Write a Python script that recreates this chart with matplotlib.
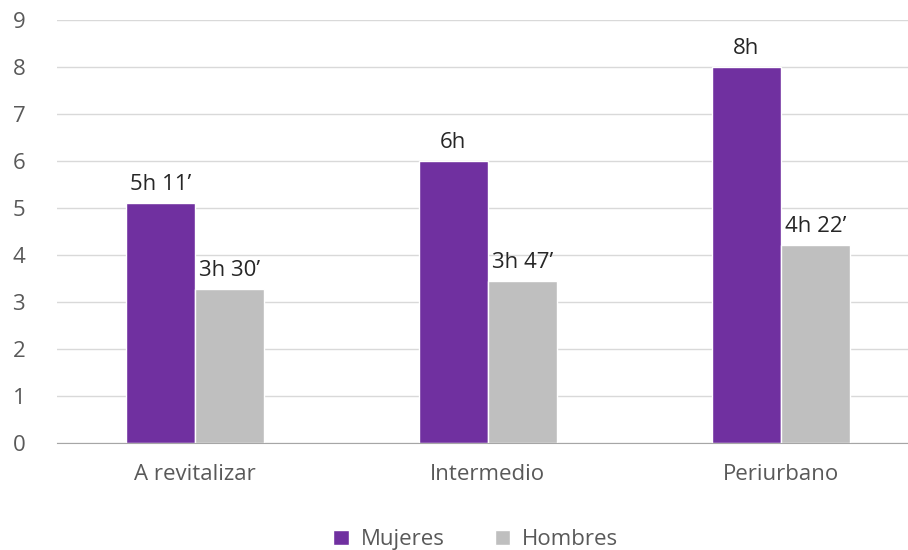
import matplotlib.pyplot as plt
import numpy as np

plt.rcParams['font.family'] = ['Open Sans', 'DejaVu Sans']

categorias = ['A revitalizar', 'Intermedio', 'Periurbano']
mujeres = [5.1, 6.0, 8.0]
hombres = [3.28, 3.45, 4.2]
etiquetas_mujeres = ['5h 11\u2019', '6h', '8h']
etiquetas_hombres = ['3h 30\u2019', '3h 47\u2019', '4h 22\u2019']

fig = plt.figure(figsize=(9.08, 5.5), dpi=100)
ax = fig.add_axes([57 / 908, 0.195, 851 / 908, 0.769])

x = np.arange(len(categorias))
w = 0.236
b1 = ax.bar(x - w / 2, mujeres, w, color='#7030A0', edgecolor='white', linewidth=1, label='Mujeres', zorder=3)
b2 = ax.bar(x + w / 2, hombres, w, color='#BFBFBF', edgecolor='white', linewidth=1, label='Hombres', zorder=3)

for rect, lab in zip(b1, etiquetas_mujeres):
    ax.text(rect.get_x() + rect.get_width() / 2, rect.get_height() + 0.17, lab,
            ha='center', va='bottom', fontsize=16, color='#262626')
for rect, lab in zip(b2, etiquetas_hombres):
    ax.text(rect.get_x() + rect.get_width() / 2, rect.get_height() + 0.17, lab,
            ha='center', va='bottom', fontsize=16, color='#262626')

ax.set_xlim(-0.47, 2.434)
ax.set_ylim(0, 9)
ax.set_yticks(range(10))
ax.set_xticks(x)
ax.set_xticklabels(categorias)
ax.tick_params(axis='both', length=0, labelsize=16, labelcolor='#595959')
ax.tick_params(axis='x', pad=15)
ax.tick_params(axis='y', pad=32)
for lab in ax.get_yticklabels():
    lab.set_horizontalalignment('left')
ax.grid(axis='y', color='#D9D9D9', linewidth=1, zorder=0)
for s in ['top', 'right', 'left']:
    ax.spines[s].set_visible(False)
ax.spines['bottom'].set_color('#A6A6A6')
ax.spines['bottom'].set_zorder(4)

fig.legend(loc='center', bbox_to_anchor=(0.524, 0.019), ncol=2, frameon=False,
           fontsize=16, labelcolor='#595959', handlelength=0.68, handleheight=0.68,
           columnspacing=2.25, handletextpad=0.55)

fig.savefig('out.png', dpi=100)
